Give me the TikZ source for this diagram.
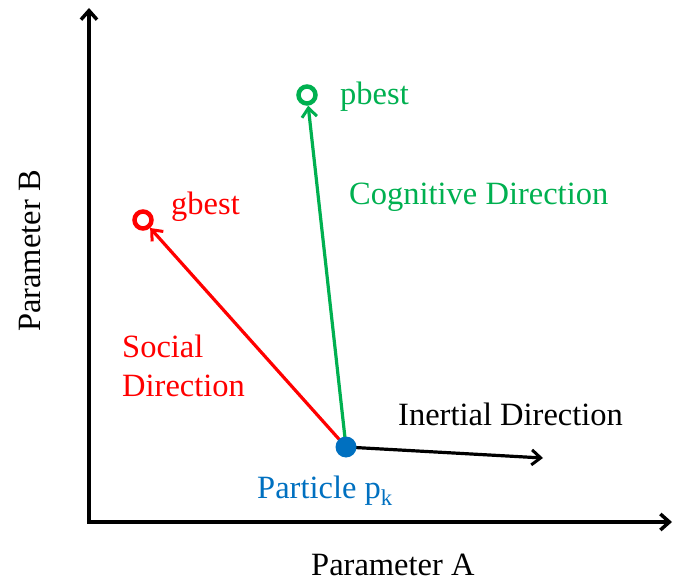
\documentclass[tikz,border=0pt]{standalone}
\usepackage{fontspec}
\setmainfont{Liberation Serif}
\usetikzlibrary{arrows.meta}
\definecolor{pblue}{RGB}{0,112,192}
\definecolor{pgreen}{RGB}{0,176,80}
\definecolor{pred}{RGB}{255,0,0}
\begin{document}
\begin{tikzpicture}[x=1pt,y=-1pt,
  barb/.style={-{Straight Barb[length=9pt,width=15pt,line width=3pt]}},
  axisline/.style={line width=3.8pt,{Straight Barb[length=9pt,width=16pt,line width=3.5pt]}-{Straight Barb[length=9pt,width=16pt,line width=3.5pt]}},
  vec/.style={line width=3.2pt,barb},
  ring/.style={circle,draw,line width=4.5pt,minimum size=17pt,inner sep=0pt},
  dot/.style={circle,fill=pblue,minimum size=21pt,inner sep=0pt},
  lbl/.style={anchor=base west,inner sep=0pt,font=\fontsize{32.5}{39}\selectfont}]
\useasboundingbox (0,0) rectangle (673,583);
% axes
\coordinate (ytop) at (89,8);
\coordinate (O) at (89,522);
\coordinate (xend) at (672,522);
\draw[axisline] (ytop) -- (O) -- (xend);
% points
\node[ring,pgreen] (pb) at (307,95) {};
\node[ring,pred] (gb) at (143,220) {};
\coordinate (iend) at (543,458);
\coordinate (p) at (346,447);
% vectors
\draw[vec,pgreen] (p) -- (pb);
\draw[vec,pred] (p) -- (gb);
\draw[vec,black] (p) -- (iend);
\node[dot] (pdot) at (p) {};
% labels
\node[lbl,pgreen] (lpb) at (340,105) {pbest};
\node[lbl,pgreen] (lcog) at (349,205) {Cognitive Direction};
\node[lbl,pred] (lgb) at (171,215) {gbest};
\node[lbl,pred] (lsoc) at (122,357) {Social};
\node[lbl,pred] (ldir) at (122,396) {Direction};
\node[lbl,black] (lin) at (398,425) {Inertial Direction};
\node[lbl,pblue] (lpart) at (257,498) {Particle p\textsubscript{k}};
\node[lbl,black] (lA) at (311,575) {Parameter A};
\node[lbl,black,rotate=90] (lB) at (40,332) {Parameter B};
\end{tikzpicture}
\end{document}
